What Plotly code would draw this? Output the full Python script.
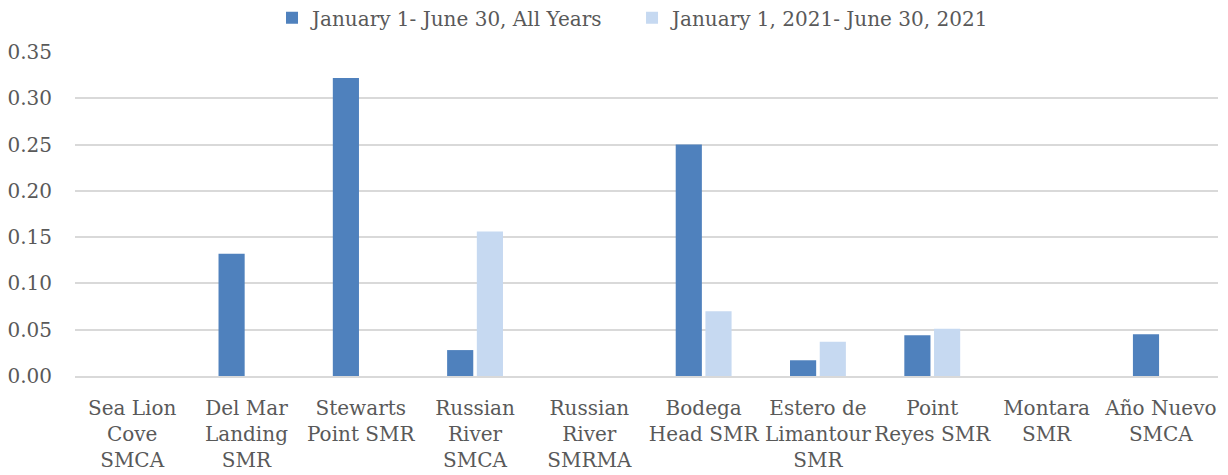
import plotly.graph_objects as go

categories = ["Sea Lion<br>Cove<br>SMCA", "Del Mar<br>Landing<br>SMR", "Stewarts<br>Point SMR",
              "Russian<br>River<br>SMCA", "Russian<br>River<br>SMRMA", "Bodega<br>Head SMR",
              "Estero de<br>Limantour<br>SMR", "Point<br>Reyes SMR", "Montara<br>SMR", "Año Nuevo<br>SMCA"]
series_names = ["January 1- June 30, All Years", "January 1, 2021- June 30, 2021"]
all_years = [0, 0.132, 0.322, 0.028, 0, 0.250, 0.017, 0.044, 0, 0.045]
year_2021 = [0, 0, 0, 0.156, 0, 0.070, 0.037, 0.051, 0, 0]
tick_vals = [0, 0.05, 0.10, 0.15, 0.20, 0.25, 0.30, 0.35]

FONT = "DejaVu Serif"
TXT = "#595959"

fig = go.Figure()
fig.add_trace(go.Bar(x=categories, y=all_years, name=series_names[0], legend="legend",
                     marker=dict(color="#4F81BD", line=dict(width=0))))
fig.add_trace(go.Bar(x=categories, y=year_2021, name=series_names[1], legend="legend2",
                     marker=dict(color="#C6D9F1", line=dict(width=0))))

leg_common = dict(orientation="h", yanchor="middle", y=0.979, yref="container",
                  xref="container", xanchor="left", font=dict(size=20, color=TXT),
                  itemwidth=30, bgcolor="rgba(0,0,0,0)")

fig.update_layout(
    width=1220, height=467,
    margin=dict(l=67, r=10, t=44, b=99, autoexpand=False),
    paper_bgcolor="white", plot_bgcolor="white",
    font=dict(family=FONT, size=20, color=TXT),
    barmode="group", bargap=0.48, bargroupgap=0.12,
    legend=dict(leg_common, x=0.2164),
    legend2=dict(leg_common, x=0.5115),
    showlegend=True,
)
fig.update_xaxes(showgrid=False, showline=True, linecolor="#D9D9D9", linewidth=1.5,
                 tickfont=dict(family=FONT, size=20, color=TXT), tickangle=0, ticks="",
                 ticklabelstandoff=13)
fig.update_yaxes(range=[0, 0.35], tickvals=tick_vals, tickformat=".2f",
                 showgrid=True, gridcolor="#D9D9D9", gridwidth=1.5, zeroline=False,
                 tickfont=dict(family=FONT, size=20, color=TXT), ticklabelstandoff=22)

fig.write_html("out.html")
